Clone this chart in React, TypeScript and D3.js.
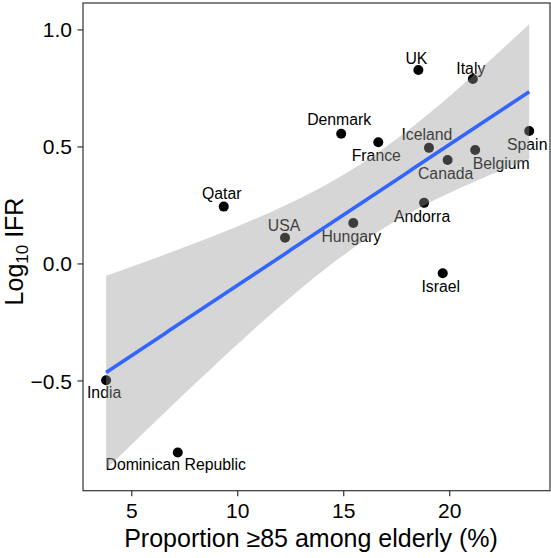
import React from "react";
import * as d3 from "d3";

const countries = ["UK", "Italy", "Denmark", "France", "Iceland", "Canada", "Belgium", "Spain", "Andorra", "Hungary", "USA", "Israel", "Qatar", "India", "Dominican Republic"];
const pctOver85 = [18.52, 21.09, 14.88, 16.63, 19.02, 19.9, 21.2, 23.75, 18.79, 15.45, 12.23, 19.67, 9.34, 3.79, 7.17];
const log10IFR = [0.829, 0.79, 0.556, 0.52, 0.496, 0.444, 0.487, 0.568, 0.261, 0.175, 0.112, -0.04, 0.245, -0.497, -0.806];
// label nudges (px) relative to point
const labelDx = [-2, -2, -2, -2, -2, -2, 26, -2, -2, -2, -1, -2, -2, -2, -2];
const labelDy = [-12, -11, -15, 13, -14, 13, 13, 13, 13, 13, -12, 13, -13, 12, 12];

const xTicks = [5, 10, 15, 20];
const yTicks = [-0.5, 0.0, 0.5, 1.0];

const W = 551, H = 558;
const P = { left: 83, right: 550, top: 3, bottom: 490.7 };
const FONT = "'Liberation Sans', Arial, Helvetica, sans-serif";

export default function App() {
  const x = d3.scaleLinear().domain([2.70, 24.73]).range([P.left, P.right]);
  const y = d3.scaleLinear().domain([-0.969, 1.115]).range([P.bottom, P.top]);

  // OLS fit with 95% confidence band
  const n = pctOver85.length;
  const mx = d3.mean(pctOver85)!;
  const my = d3.mean(log10IFR)!;
  let sxx = 0, sxy = 0;
  for (let i = 0; i < n; i++) {
    sxx += (pctOver85[i] - mx) ** 2;
    sxy += (pctOver85[i] - mx) * (log10IFR[i] - my);
  }
  const b = sxy / sxx;
  const a = my - b * mx;
  let sse = 0;
  for (let i = 0; i < n; i++) sse += (log10IFR[i] - (a + b * pctOver85[i])) ** 2;
  const s = Math.sqrt(sse / (n - 2));
  const t = 2.1604;
  const [xmin, xmax] = d3.extent(pctOver85) as [number, number];
  const grid = d3.range(0, 81).map((k) => xmin + (k / 80) * (xmax - xmin));
  const fit = grid.map((gx) => {
    const yhat = a + b * gx;
    const se = s * Math.sqrt(1 / n + (gx - mx) ** 2 / sxx);
    return { x: gx, y: yhat, lo: yhat - t * se, hi: yhat + t * se };
  });
  const area = d3.area<any>().x((d) => x(d.x)).y0((d) => y(d.lo)).y1((d) => y(d.hi));
  const line = d3.line<any>().x((d) => x(d.x)).y((d) => y(d.y));

  return (
    <svg width={W} height={H} style={{ position: "absolute", left: 0, top: 0, background: "#fff" }} fontFamily={FONT}>
      <rect x={0} y={0} width={W} height={H} fill="#fff" />
      <defs>
        <clipPath id="panel">
          <rect x={P.left} y={P.top} width={P.right - P.left} height={P.bottom - P.top} />
        </clipPath>
      </defs>
      <g clipPath="url(#panel)">
        {countries.map((c, i) => (
          <g key={c}>
            <circle cx={x(pctOver85[i])} cy={y(log10IFR[i])} r={5} fill="#000" />
            <text
              x={x(pctOver85[i]) + labelDx[i]}
              y={y(log10IFR[i]) + labelDy[i]}
              dy="0.36em"
              textAnchor="middle"
              fontSize={15.8}
              fill="#000"
            >
              {c}
            </text>
          </g>
        ))}
        <path d={area(fit)!} fill="#999999" fillOpacity={0.4} />
        <path d={line(fit)!} fill="none" stroke="#3366FF" strokeWidth={3.6} />
      </g>
      <rect x={P.left} y={P.top} width={P.right - P.left} height={P.bottom - P.top} fill="none" stroke="#333" strokeWidth={1.2} />
      {xTicks.map((v) => (
        <g key={v}>
          <line x1={x(v)} x2={x(v)} y1={P.bottom} y2={P.bottom + 5.5} stroke="#333" strokeWidth={1.2} />
          <text x={x(v)} y={518} textAnchor="middle" fontSize={21} fill="#000">{v}</text>
        </g>
      ))}
      {yTicks.map((v) => (
        <g key={v}>
          <line x1={P.left - 5.5} x2={P.left} y1={y(v)} y2={y(v)} stroke="#333" strokeWidth={1.2} />
          <text x={72} y={y(v)} dy="0.36em" textAnchor="end" fontSize={21} fill="#000">
            {v === 0 ? "0.0" : v < 0 ? "\u2212" + Math.abs(v).toFixed(1) : v.toFixed(1)}
          </text>
        </g>
      ))}
      <text x={311} y={546.5} textAnchor="middle" fontSize={25} fill="#000">
        Proportion ≥85 among elderly (%)
      </text>
      <text transform={`translate(23,251.5) rotate(-90)`} textAnchor="middle" fontSize={25} fill="#000">
        Log<tspan fontSize={17} dy={5}>10</tspan><tspan dy={-5}> IFR</tspan>
      </text>
    </svg>
  );
}
